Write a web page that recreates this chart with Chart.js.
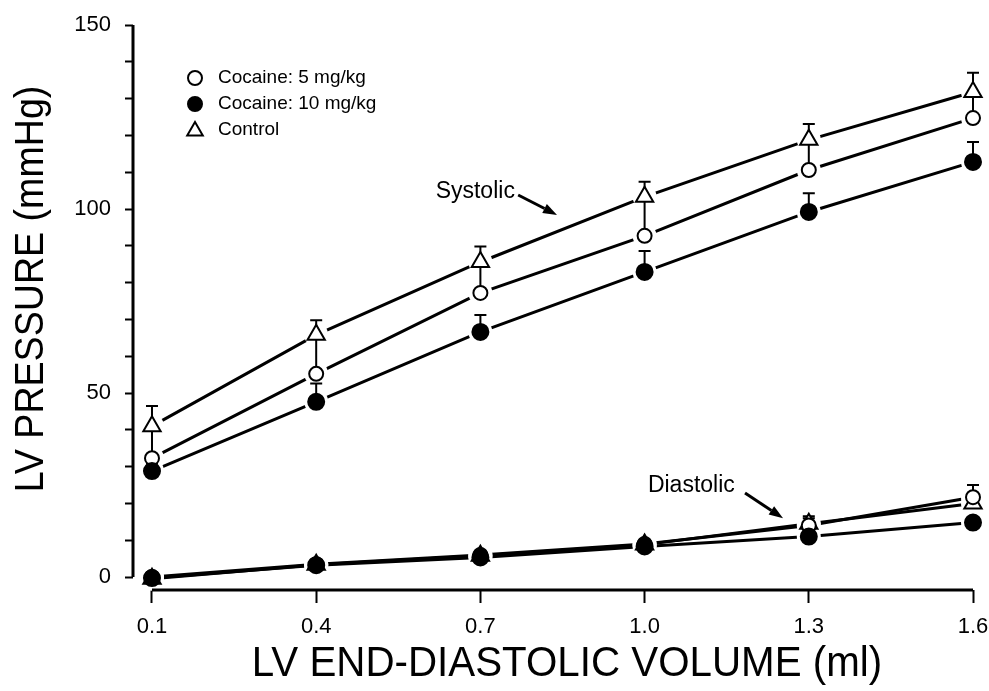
<!DOCTYPE html>
<html>
<head>
<meta charset="utf-8">
<title>LV pressure vs end-diastolic volume</title>
<script src="https://cdn.jsdelivr.net/npm/chart.js@4.4.0/dist/chart.umd.min.js"></script>
<style>
  html, body { margin: 0; padding: 0; background: #fff; }
  #wrap { width: 989px; height: 691px; }
</style>
</head>
<body>
<div id="wrap"><canvas id="lv-chart" width="989" height="691"></canvas></div>
<script>
// --- data ---
const volumes = [0.1, 0.4, 0.7, 1.0, 1.3, 1.6];
const yTicks = [0, 10, 20, 30, 40, 50, 60, 70, 80, 90, 100, 110, 120, 130, 140, 150];
const seriesNames = ['Cocaine: 5 mg/kg', 'Cocaine: 10 mg/kg', 'Control'];

// systolic pressure (mmHg) and upward SE
const sysCoc5 = [32.3, 55.2, 77.2, 92.7, 110.6, 124.7];
const sysCoc5Err = [8, 10, 8, 10, 8, 7];
const sysCoc10 = [28.8, 47.6, 66.6, 82.9, 99.2, 112.8];
const sysCoc10Err = [2, 5, 4.6, 5.7, 5.1, 5.4];
const sysControl = [41, 65.8, 85.6, 103.3, 118.8, 131.8];
const sysControlErr = [5.5, 4, 4.2, 4.1, 4.3, 5.2];

// diastolic pressure (mmHg) and upward SE
const diaCoc5 = [0, 3.5, 6, 9, 14, 21.7];
const diaCoc5Err = [0.5, 1, 1, 1, 2.5, 3.3];
const diaCoc10 = [-0.3, 3.2, 5.3, 8.3, 11, 14.8];
const diaCoc10Err = [0.5, 0.8, 0.8, 1, 1.2, 1.5];
const diaControl = [-0.5, 3.3, 5.8, 8.8, 14.5, 20];
const diaControlErr = [0.5, 0.8, 1, 1, 1.5, 2.5];

const FONT = "'Liberation Sans', Arial, Helvetica, sans-serif";
Chart.defaults.font.family = FONT;
Chart.defaults.color = '#000';

// systolic + gap + diastolic in one dataset, so one line style per group
function joined(sys, dia) {
  const pts = volumes.map((v, i) => ({ x: v, y: sys[i] }));
  pts.push({ x: 1.6, y: null });
  return pts.concat(volumes.map((v, i) => ({ x: v, y: dia[i] })));
}

// markerOrder: lower is drawn later (on top) -> filled circles sit on top
const groups = [
  { name: seriesNames[0], sys: sysCoc5, sysErr: sysCoc5Err, dia: diaCoc5, diaErr: diaCoc5Err,
    style: 'circle', radius: 7, fill: '#fff', markerOrder: 1 },
  { name: seriesNames[1], sys: sysCoc10, sysErr: sysCoc10Err, dia: diaCoc10, diaErr: diaCoc10Err,
    style: 'circle', radius: 8, fill: '#000', markerOrder: 0 },
  { name: seriesNames[2], sys: sysControl, sysErr: sysControlErr, dia: diaControl, diaErr: diaControlErr,
    style: 'triangle', radius: 10, fill: '#fff', markerOrder: 1 }
];

const datasets = [];
groups.forEach(g => {
  // plain connecting line
  datasets.push({
    kind: 'line', data: joined(g.sys, g.dia), borderColor: '#000', borderWidth: 3,
    pointRadius: 0, spanGaps: false, order: 4, clip: false
  });
  // white halo that leaves the gap round each symbol
  datasets.push({
    kind: 'halo', data: joined(g.sys, g.dia), showLine: false, pointRadius: 12,
    pointBackgroundColor: '#fff', pointBorderWidth: 0, order: 3, clip: false
  });
  // the symbols
  datasets.push({
    kind: 'marker', label: g.name, data: joined(g.sys, g.dia), showLine: false,
    pointStyle: g.style, pointRadius: g.radius, pointBackgroundColor: g.fill,
    pointBorderColor: '#000', pointBorderWidth: 2, order: g.markerOrder, clip: false
  });
});

let errDrawn = false;
const extras = {
  id: 'extras',
  beforeDatasetsDraw() { errDrawn = false; },
  beforeDatasetDraw(chart, args) {
    if (errDrawn || chart.data.datasets[args.index].kind !== 'marker') return;
    errDrawn = true;
    const ctx = chart.ctx, xs = chart.scales.x, ys = chart.scales.y;
    ctx.save();
    ctx.strokeStyle = '#000';
    ctx.lineWidth = 2;
    groups.forEach(g => {
      [[g.sys, g.sysErr], [g.dia, g.diaErr]].forEach(([vals, errs]) => {
        vals.forEach((v, i) => {
          const px = xs.getPixelForValue(volumes[i]);
          const y0 = ys.getPixelForValue(v), y1 = ys.getPixelForValue(v + errs[i]);
          ctx.beginPath();
          ctx.moveTo(px, y0); ctx.lineTo(px, y1);
          ctx.moveTo(px - 6, y1); ctx.lineTo(px + 6, y1);
          ctx.stroke();
        });
      });
    });
    ctx.restore();
  },
  afterDraw(chart) {
    const ctx = chart.ctx, xs = chart.scales.x, ys = chart.scales.y;
    ctx.save();
    ctx.strokeStyle = '#000';
    ctx.fillStyle = '#000';
    ctx.lineWidth = 3;
    // axis lines (they stop at the first and last tick)
    const ax = chart.chartArea.left;
    ctx.beginPath();
    ctx.moveTo(ax, ys.getPixelForValue(0)); ctx.lineTo(ax, ys.getPixelForValue(150));
    const ay = chart.chartArea.bottom;
    ctx.moveTo(xs.getPixelForValue(0.1), ay); ctx.lineTo(xs.getPixelForValue(1.6), ay);
    ctx.stroke();

    // axis titles
    ctx.textAlign = 'center';
    ctx.textBaseline = 'alphabetic';
    ctx.save();
    ctx.translate(567, 676);
    ctx.scale(0.96, 1);
    ctx.font = '42px ' + FONT;
    ctx.fillText('LV END-DIASTOLIC VOLUME (ml)', 0, 0);
    ctx.restore();
    ctx.save();
    ctx.translate(43, 289);
    ctx.rotate(-Math.PI / 2);
    ctx.scale(0.94, 1);
    ctx.font = '40px ' + FONT;
    ctx.fillText('LV PRESSURE (mmHg)', 0, 0);
    ctx.restore();

    // legend
    ctx.font = '19px ' + FONT;
    ctx.textAlign = 'left';
    ctx.textBaseline = 'middle';
    groups.forEach((g, i) => {
      const ly = 78 + i * 26;
      ctx.fillStyle = g.fill;
      ctx.strokeStyle = '#000';
      ctx.lineWidth = 2;
      Chart.helpers.drawPoint(ctx, { pointStyle: g.style, radius: g.style === 'triangle' ? 9 : 7,
        rotation: 0, borderWidth: 2 }, 195, ly + (g.style === 'triangle' ? 1 : 0));
      ctx.fillStyle = '#000';
      ctx.fillText(g.name, 218, ly);
    });

    // labels with arrows
    ctx.font = '23px ' + FONT;
    ctx.textBaseline = 'alphabetic';
    ctx.textAlign = 'right';
    ctx.fillText('Systolic', xs.getPixelForValue(0.763), ys.getPixelForValue(103));
    ctx.textAlign = 'left';
    ctx.fillText('Diastolic', xs.getPixelForValue(1.006), ys.getPixelForValue(23.1));
    arrow(ctx, xs.getPixelForValue(0.769), ys.getPixelForValue(103.8),
      xs.getPixelForValue(0.840), ys.getPixelForValue(98.4));
    arrow(ctx, xs.getPixelForValue(1.1835), ys.getPixelForValue(22.8),
      xs.getPixelForValue(1.253), ys.getPixelForValue(16.0));
    ctx.restore();
  }
};

function arrow(ctx, x1, y1, x2, y2) {
  const a = Math.atan2(y2 - y1, x2 - x1), len = 14, half = 5;
  const bx = x2 - len * Math.cos(a), by = y2 - len * Math.sin(a);
  ctx.lineWidth = 3;
  ctx.beginPath();
  ctx.moveTo(x1, y1); ctx.lineTo(bx, by);
  ctx.stroke();
  ctx.beginPath();
  ctx.moveTo(x2, y2);
  ctx.lineTo(bx + half * Math.sin(a), by - half * Math.cos(a));
  ctx.lineTo(bx - half * Math.sin(a), by + half * Math.cos(a));
  ctx.closePath();
  ctx.fill();
}

new Chart(document.getElementById('lv-chart'), {
  type: 'line',
  data: { datasets },
  options: {
    responsive: false,
    animation: false,
    events: [],
    layout: { padding: { top: 25, right: 16, left: 0, bottom: 0 } },
    plugins: { legend: { display: false }, tooltip: { enabled: false } },
    scales: {
      x: {
        type: 'linear',
        min: 0.0653,
        max: 1.6,
        afterBuildTicks: s => { s.ticks = volumes.map(v => ({ value: v })); },
        afterFit: s => { s.height = 101; s.paddingLeft = 0; s.paddingRight = 0; },
        ticks: { callback: v => v.toFixed(1), font: { size: 22 }, padding: 11, maxRotation: 0, autoSkip: false },
        grid: { drawOnChartArea: false, drawTicks: true, tickLength: 13, tickWidth: 2, tickColor: '#000' },
        border: { display: false }
      },
      y: {
        min: -3.53,
        max: 150,
        afterBuildTicks: s => { s.ticks = yTicks.map(v => ({ value: v })); },
        afterFit: s => { s.width = 133; s.paddingTop = 0; s.paddingBottom = 0; },
        ticks: { callback: v => (v % 50 === 0 ? String(v) : ''), font: { size: 22 }, padding: 14, autoSkip: false },
        grid: { drawOnChartArea: false, drawTicks: true, tickLength: 8, tickWidth: 2, tickColor: '#000' },
        border: { display: false }
      }
    }
  },
  plugins: [extras]
});
</script>
</body>
</html>
